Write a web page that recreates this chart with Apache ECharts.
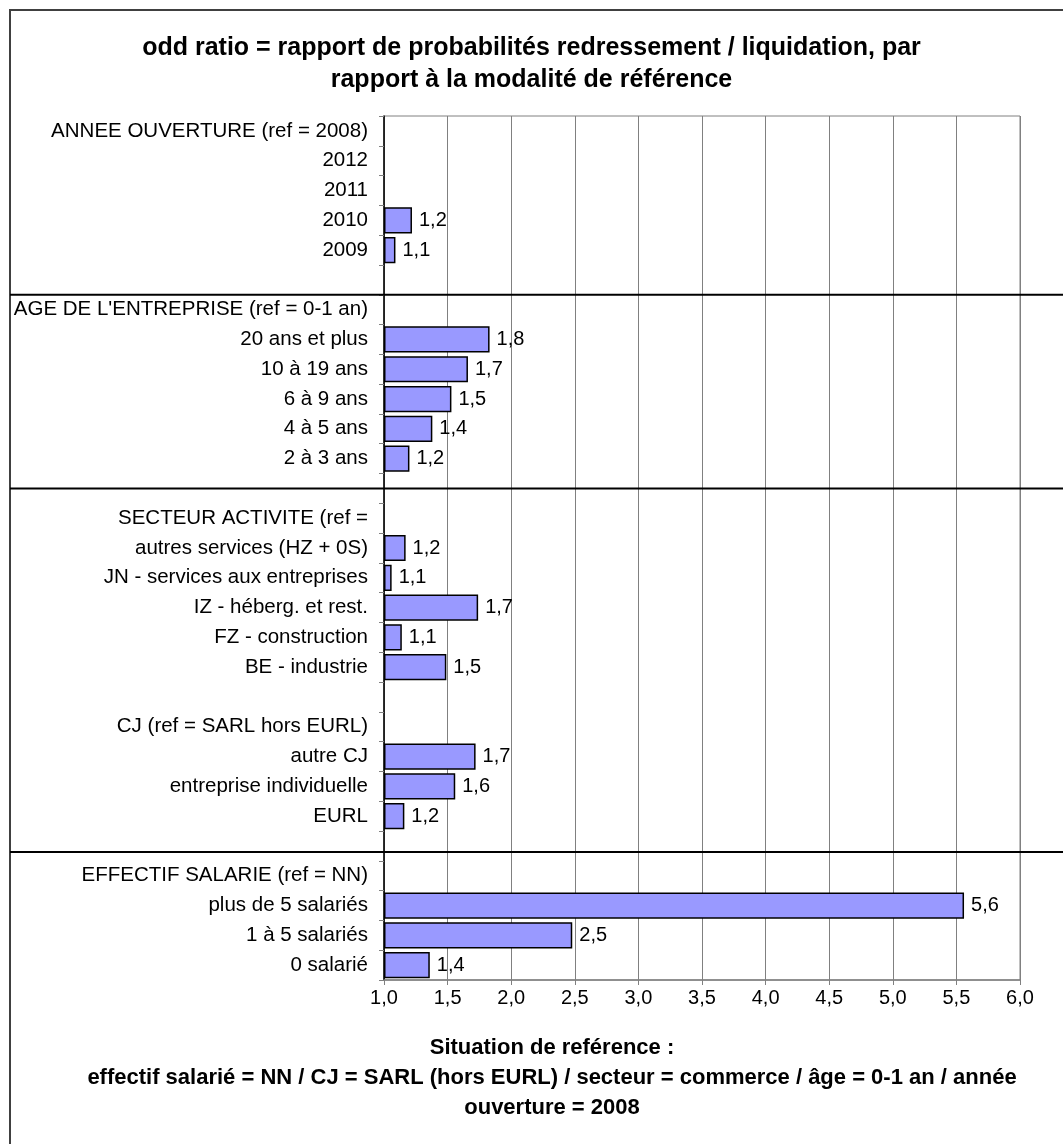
<!DOCTYPE html>
<html>
<head>
<meta charset="utf-8">
<script src="https://cdn.jsdelivr.net/npm/echarts@6/dist/echarts.min.js"></script>
<style>
  html, body { margin: 0; padding: 0; background: #fff; }
  #chart { width: 1063px; height: 1144px; }
</style>
</head>
<body>
<div id="chart"></div>
<script>
// Row labels, top to bottom (blank rows separate the groups)
const categories = [
  "ANNEE OUVERTURE (ref = 2008)", "2012", "2011", "2010", "2009", " ",
  "AGE DE L'ENTREPRISE (ref = 0-1 an)", "20 ans et plus", "10 à 19 ans", "6 à 9 ans", "4 à 5 ans", "2 à 3 ans", "  ",
  "SECTEUR ACTIVITE (ref =", "autres services (HZ + 0S)", "JN - services aux entreprises", "IZ - héberg. et rest.", "FZ - construction", "BE - industrie", "   ",
  "CJ (ref = SARL hors EURL)", "autre CJ", "entreprise individuelle", "EURL", "    ",
  "EFFECTIF SALARIE (ref = NN)", "plus de 5 salariés", "1 à 5 salariés", "0 salarié"
];

// Odd ratios (null = header or empty row)
const oddRatios = [
  null, null, null, 1.22, 1.09, null,
  null, 1.83, 1.66, 1.53, 1.38, 1.20, null,
  null, 1.17, 1.06, 1.74, 1.14, 1.49, null,
  null, 1.72, 1.56, 1.16, null,
  null, 5.56, 2.48, 1.36
];

const xTicks = { min: 1, max: 6, interval: 0.5 };

const titleText = "odd ratio = rapport de probabilités redressement / liquidation, par\nrapport à la modalité de référence";
const footTitle = "Situation de reférence :";
const footLines = "effectif salarié = NN / CJ = SARL (hors EURL) / secteur = commerce / âge = 0-1 an / année\nouverture = 2008";

// Group separators, as positions on the category axis (row index units)
const separatorRows = [5.5, 12, 24.2];

const fmt = v => v.toFixed(1).replace('.', ',');
const FONT = "'Liberation Sans', Arial, sans-serif";

const chart = echarts.init(document.getElementById('chart'), null, { renderer: 'canvas' });

const option = {
  backgroundColor: '#ffffff',
  animation: false,
  title: {
    text: titleText,
    left: 'center',
    top: 27,
    textStyle: { fontFamily: FONT, fontSize: 25, fontWeight: 'bold', color: '#000', lineHeight: 32 }
  },
  grid: { left: 384, right: 43, top: 116, bottom: 164, show: true, borderColor: '#808080', borderWidth: 1, backgroundColor: 'transparent' },
  xAxis: {
    type: 'value',
    min: xTicks.min, max: xTicks.max, interval: xTicks.interval,
    startValue: 1,
    axisLine: { show: true, lineStyle: { color: '#808080', width: 1.5 } },
    axisTick: { show: true, length: 5, lineStyle: { color: '#808080' } },
    axisLabel: { formatter: fmt, fontFamily: FONT, fontSize: 20, color: '#000', margin: 8 },
    splitLine: { show: true, lineStyle: { color: '#808080', width: 1 } }
  },
  yAxis: {
    type: 'category',
    inverse: true,
    data: categories,
    axisLine: { show: true, lineStyle: { color: '#000', width: 1.5 } },
    axisTick: { show: true, length: 5, lineStyle: { color: '#808080' } },
    axisLabel: { fontFamily: FONT, fontSize: 20.5, color: '#000', margin: 16, interval: 0 },
    splitLine: { show: false }
  },
  series: [{
    type: 'bar',
    data: oddRatios,
    barCategoryGap: '12%',
    itemStyle: { color: '#9999FF', borderColor: '#000', borderWidth: 1.5 },
    label: {
      show: true,
      position: 'right',
      distance: 7,
      formatter: p => (p.value == null ? '' : fmt(p.value)),
      fontFamily: FONT, fontSize: 20, color: '#000'
    }
  }]
};

chart.setOption(option);

// Pixel position of a (possibly fractional) row index on the category axis
function rowToPixel(r) {
  const i = Math.floor(r);
  const f = r - i;
  const y0 = chart.convertToPixel({ yAxisIndex: 0 }, i);
  if (f === 0) return y0;
  const y1 = chart.convertToPixel({ yAxisIndex: 0 }, i + 1);
  return y0 + f * (y1 - y0);
}

// Frame, group separators and footnote
const graphics = [
  { type: 'rect', shape: { x: 10, y: 10, width: 1200, height: 1300 }, style: { fill: 'none', stroke: '#404040', lineWidth: 2 }, silent: true },
  {
    type: 'text', x: 552, y: 1037,
    style: { text: footTitle, font: "bold 22px " + FONT, fill: '#000', textAlign: 'center' }
  },
  {
    type: 'text', x: 552, y: 1063,
    style: { text: footLines, font: "bold 22px " + FONT, fill: '#000', textAlign: 'center', lineHeight: 30 }
  }
];
separatorRows.forEach(r => {
  const y = rowToPixel(r);
  graphics.push({ type: 'line', shape: { x1: 10, y1: y, x2: 1063, y2: y }, style: { stroke: '#000', lineWidth: 2 }, silent: true, z: 10 });
});
chart.setOption({ graphic: graphics });
</script>
</body>
</html>
